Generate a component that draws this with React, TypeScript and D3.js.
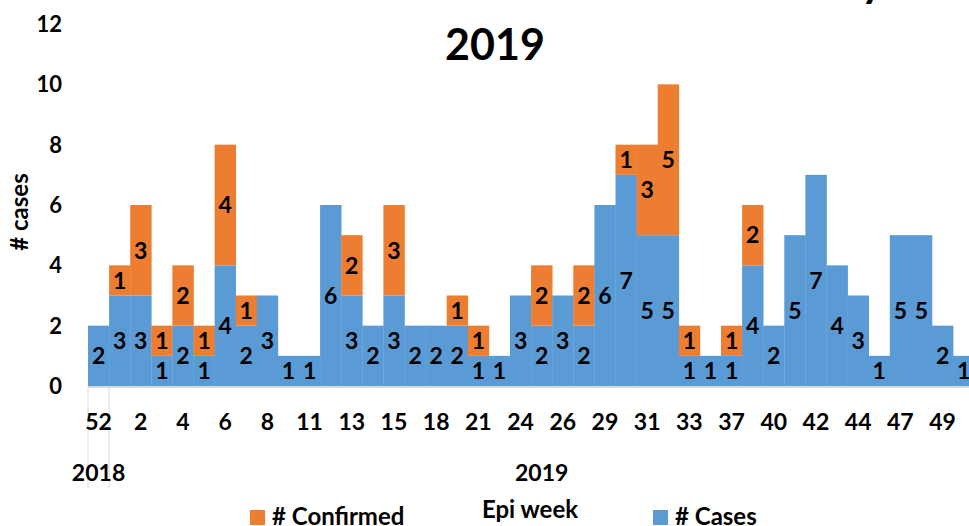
import React from "react";
import * as d3 from "d3";

const weeks = ["52","1","2","3","4","5","6","7","8","9","11","12","13","14","15","16","18","20","21","23","24","25","26","28","29","30","31","32","33","35","37","39","40","41","42","43","44","46","47","48","49","50"];
const cases = [2,3,3,1,2,1,4,2,3,1,1,6,3,2,3,2,2,2,1,1,3,2,3,2,6,7,5,5,1,1,1,4,2,5,7,4,3,1,5,5,2,1];
const confirmed = [0,1,3,1,2,1,4,1,0,0,0,0,2,0,3,0,0,1,1,0,0,2,0,2,0,1,3,5,1,0,1,2,0,0,0,0,0,0,0,0,0,0];
const yTicks = [0,2,4,6,8,10,12];
const years = [{ label: "2018", from: 0, to: 1 }, { label: "2019", from: 1, to: 42 }];

const BLUE = "#5B9BD5";
const ORANGE = "#ED7D31";
const FONT = "Lato, 'Open Sans', sans-serif";

export default function App() {
  const W = 969, H = 526;
  const x = d3.scaleBand<string>().domain(weeks.map((w, i) => i + "")).range([88, 88 + 42 * 21.1]).padding(0);
  const y = d3.scaleLinear().domain([0, 12]).range([386, 24]);
  const bw = x.bandwidth();
  const xi = (i: number) => x(i + "") as number;

  return (
    <svg width={W} height={H} style={{ position: "absolute", left: 0, top: 0 }} fontFamily={FONT} fontWeight="bold">
      <rect x={0} y={0} width={W} height={H} fill="#fff" />
      {/* clipped first title line fragment */}
      <text x={884} y={-3} textAnchor="end" fontSize={44} fill="#000">y</text>
      <text x={495} y={60} textAnchor="middle" fontSize={43} fill="#000">2019</text>

      {/* y axis labels */}
      {yTicks.map((t) => (
        <text key={t} x={62} y={y(t) + 8} textAnchor="end" fontSize={22} fill="#000">{t}</text>
      ))}
      <text transform={`translate(28,212) rotate(-90)`} textAnchor="middle" fontSize={24} fill="#000"># cases</text>

      {/* bars */}
      {cases.map((c, i) => (
        <g key={i}>
          <rect x={xi(i)} y={y(c)} width={bw + 0.3} height={y(0) - y(c)} fill={BLUE} />
          {confirmed[i] > 0 && (
            <rect x={xi(i)} y={y(c + confirmed[i])} width={bw + 0.3} height={y(c) - y(c + confirmed[i])} fill={ORANGE} />
          )}
        </g>
      ))}
      {/* data labels */}
      {cases.map((c, i) => (
        <g key={"l" + i}>
          <text x={xi(i) + bw / 2} y={y(c / 2)} dy="0.36em" textAnchor="middle" fontSize={23} fill="#000">{c}</text>
          {confirmed[i] > 0 && (
            <text x={xi(i) + bw / 2} y={y(c + confirmed[i] / 2)} dy="0.36em" textAnchor="middle" fontSize={23} fill="#000">{confirmed[i]}</text>
          )}
        </g>
      ))}

      {/* x axis */}
      <line x1={88} x2={W} y1={387} y2={387} stroke="#d9d9d9" strokeWidth={2} />
      <line x1={88} x2={88} y1={387} y2={488} stroke="#d9d9d9" strokeWidth={1} />
      <line x1={xi(1)} x2={xi(1)} y1={387} y2={488} stroke="#d9d9d9" strokeWidth={1} />
      {weeks.map((w, i) =>
        i % 2 === 0 ? (
          <text key={"t" + i} x={xi(i) + bw / 2} y={430} textAnchor="middle" fontSize={23} fill="#000">{w}</text>
        ) : null
      )}
      {years.map((yr) => (
        <text key={yr.label} x={(xi(yr.from) + xi(yr.to - 1) + bw) / 2} y={481} textAnchor="middle" fontSize={23} fill="#000">{yr.label}</text>
      ))}
      <text x={530} y={518} textAnchor="middle" fontSize={24} fill="#000">Epi week</text>

      {/* legend */}
      <rect x={250} y={510} width={15} height={15} fill={ORANGE} />
      <text x={272} y={525} fontSize={24} fill="#000"># Confirmed</text>
      <rect x={653} y={510} width={15} height={15} fill={BLUE} />
      <text x={675} y={525} fontSize={24} fill="#000"># Cases</text>
    </svg>
  );
}
